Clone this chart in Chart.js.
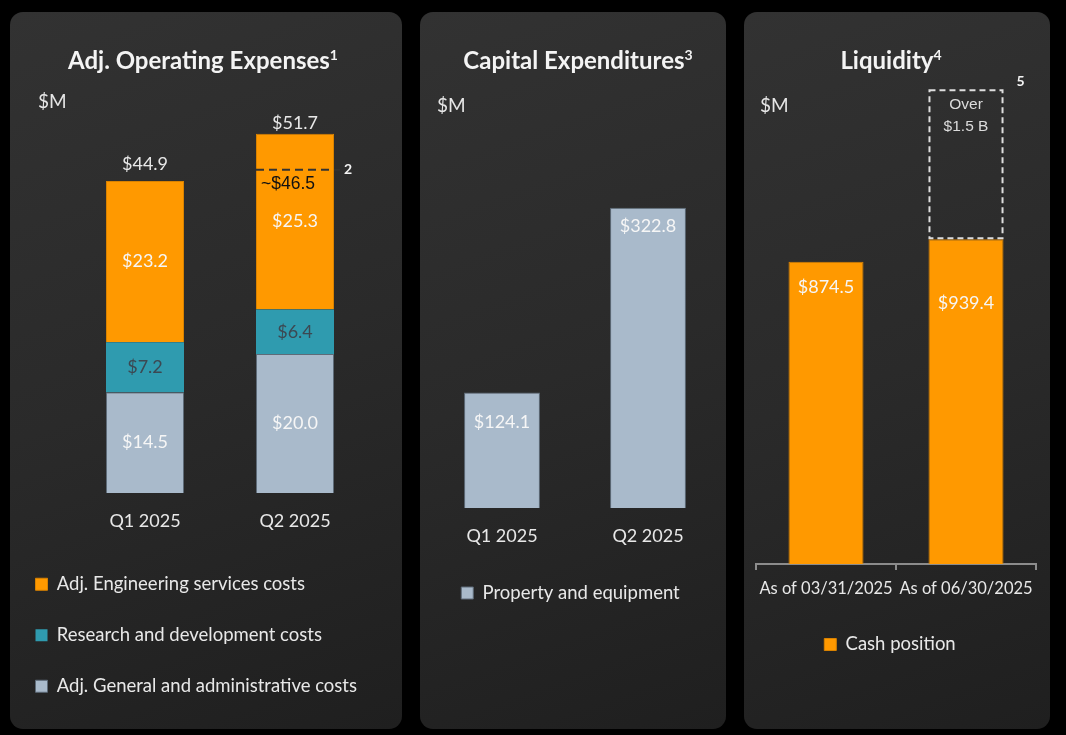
<!DOCTYPE html>
<html>
<head>
<meta charset="utf-8">
<script src="https://cdn.jsdelivr.net/npm/chart.js@4"></script>
<style>
body { margin:0; background:#000; width:1066px; height:735px; position:relative; overflow:hidden; font-family: Lato, sans-serif; }
.panel { position:absolute; top:12px; height:717px; border-radius:13px; background: linear-gradient(160deg, #323232 0%, #2a2a2a 50%, #1f1f1f 100%); }
.title { position:absolute; top:46px; width:400px; line-height:28px; font-weight:bold; font-size:24px; color:#f4f4f4; text-align:center; }
.title sup { font-size:14px; line-height:0; }
.unit { position:absolute; font-size:19px; line-height:22px; color:#e6e6e6; }
canvas { position:absolute; top:12px; }
</style>
</head>
<body>
<div class="panel" style="left:10px;width:392px"></div>
<div class="panel" style="left:420px;width:306px"></div>
<div class="panel" style="left:744px;width:306px"></div>

<canvas id="opex" width="400" height="717" style="left:3px"></canvas>
<canvas id="capex" width="306" height="717" style="left:420px"></canvas>
<canvas id="liq" width="306" height="717" style="left:744px"></canvas>

<div class="title" style="left:3px">Adj. Operating Expenses<sup>1</sup></div>
<div class="title" style="left:378px">Capital Expenditures<sup>3</sup></div>
<div class="title" style="left:691px">Liquidity<sup>4</sup></div>
<div class="unit" style="left:38px;top:90px">$M</div>
<div class="unit" style="left:437px;top:94px">$M</div>
<div class="unit" style="left:760px;top:94px">$M</div>

<script>
// data
const quarters = ['Q1 2025', 'Q2 2025'];
const engCosts = [23.2, 25.3];
const rdCosts = [7.2, 6.4];
const gaCosts = [14.5, 20.0];
const opexTotals = [44.9, 51.7];
const opexGuide = 46.5;       // ~$46.5 marker on Q2
const capexValues = [124.1, 322.8];
const liqDates = ['As of 03/31/2025', 'As of 06/30/2025'];
const cashValues = [874.5, 939.4];
const liqBoxTop = 1370;       // top of the dashed "Over $1.5 B" box

const ORANGE = '#FF9900', TEAL = '#2F9BAF', GREY = '#A9BACB';
const TXT = '#e8e8e8';
const FONT = 'Lato';

Chart.defaults.font.family = FONT;
Chart.defaults.animation = false;

// value labels inside bars
const valueLabels = {
  id: 'valueLabels',
  afterDatasetsDraw(chart) {
    const ctx = chart.ctx;
    ctx.save();
    ctx.textAlign = 'center';
    ctx.textBaseline = 'middle';
    ctx.font = '18px ' + FONT;
    chart.data.datasets.forEach((ds, i) => {
      if (!ds.labelColor) return;
      ctx.fillStyle = ds.labelColor;
      chart.getDatasetMeta(i).data.forEach((bar, j) => {
        let y = ds.labelShift ? bar.y + ds.labelShift[j] : (bar.y + bar.base) / 2;
        ctx.fillText('$' + ds.data[j].toFixed(1), bar.x, y);
      });
    });
    ctx.restore();
  }
};

function xAxis(height, pad, size, extra) {
  return Object.assign({
    grid: { display: false, drawTicks: false },
    border: { display: false },
    ticks: { color: TXT, font: { size: size }, padding: pad, maxRotation: 0, minRotation: 0, autoSkip: false },
    afterFit: s => { s.height = height; }
  }, extra || {});
}
function yAxis(width, max) {
  return {
    min: 0, max: max,
    grid: { display: false },
    border: { display: false },
    ticks: { display: false },
    afterFit: s => { s.width = width; }
  };
}
function legendOpts(align, padding, size) {
  return {
    position: 'bottom',
    align: align,
    labels: { color: TXT, font: { size: size }, boxWidth: 12, boxHeight: 12, padding: padding }
  };
}

// Adj. Operating Expenses
const opexExtras = {
  id: 'opexExtras',
  afterDatasetsDraw(chart) {
    const ctx = chart.ctx;
    const tops = chart.getDatasetMeta(2).data;
    const totalShift = [-17, -10];
    ctx.save();
    ctx.textAlign = 'center';
    ctx.textBaseline = 'middle';
    ctx.font = '18px ' + FONT;
    ctx.fillStyle = TXT;
    opexTotals.forEach((t, j) => ctx.fillText('$' + t.toFixed(1), tops[j].x, tops[j].y + totalShift[j]));

    const bar = tops[1];
    const half = bar.width / 2;
    const gy = chart.scales.y.getPixelForValue(opexGuide);
    ctx.strokeStyle = '#333';
    ctx.lineWidth = 2;
    ctx.setLineDash([8, 5]);
    ctx.beginPath();
    ctx.moveTo(bar.x - half, gy);
    ctx.lineTo(bar.x + half + 6, gy);
    ctx.stroke();
    ctx.setLineDash([]);
    ctx.textAlign = 'left';
    ctx.fillStyle = '#111';
    ctx.font = '17.5px "Liberation Sans"';
    ctx.fillText('~$46.5', bar.x - half + 5, gy + 14);
    ctx.fillStyle = '#f4f4f4';
    ctx.font = 'bold 14px ' + FONT;
    ctx.fillText('2', bar.x + half + 10, gy);
    ctx.restore();
  }
};

new Chart(document.getElementById('opex'), {
  type: 'bar',
  data: {
    labels: quarters,
    datasets: [
      { label: 'Adj. General and administrative costs', data: gaCosts, backgroundColor: GREY, borderColor: '#5E6B78', borderWidth: 1, labelColor: '#f6f6f6' },
      { label: 'Research and development costs', data: rdCosts, backgroundColor: TEAL, borderWidth: 0, labelColor: '#3c4852' },
      { label: 'Adj. Engineering services costs', data: engCosts, backgroundColor: ORANGE, borderColor: '#d98200', borderWidth: 1, labelColor: '#f6f6f6' }
    ]
  },
  options: {
    responsive: false,
    layout: { padding: { top: 64, right: 33, bottom: 23.5, left: 0 } },
    datasets: { bar: { barPercentage: 0.52, categoryPercentage: 1 } },
    scales: {
      x: Object.assign(xAxis(49.5, 17.5, 18), { stacked: true }),
      y: Object.assign(yAxis(67, 60), { stacked: true })
    },
    plugins: {
      legend: Object.assign(legendOpts('start', 32.5, 18.5), { reverse: true }),
      tooltip: { enabled: false }
    }
  },
  plugins: [valueLabels, opexExtras]
});

// Capital Expenditures
new Chart(document.getElementById('capex'), {
  type: 'bar',
  data: {
    labels: quarters,
    datasets: [
      { label: 'Property and equipment', data: capexValues, backgroundColor: GREY, borderColor: '#5E6B78', borderWidth: 1, labelColor: '#f6f6f6', labelShift: [30, 18] }
    ]
  },
  options: {
    responsive: false,
    layout: { padding: { top: 124, right: 5, bottom: 116.75, left: 0 } },
    datasets: { bar: { barPercentage: 0.52, categoryPercentage: 1 } },
    scales: {
      x: xAxis(65.75, 17.5, 18),
      y: yAxis(9, 400)
    },
    plugins: {
      legend: legendOpts('center', 10, 18.5),
      tooltip: { enabled: false }
    }
  },
  plugins: [valueLabels]
});

// Liquidity
const liqExtras = {
  id: 'liqExtras',
  afterDatasetsDraw(chart) {
    const ctx = chart.ctx;
    const bar = chart.getDatasetMeta(0).data[1];
    const half = bar.width / 2;
    const yTop = chart.scales.y.getPixelForValue(liqBoxTop);
    ctx.save();
    ctx.strokeStyle = '#dedede';
    ctx.lineWidth = 2;
    ctx.setLineDash([6, 4]);
    ctx.strokeRect(bar.x - half + 1, yTop, bar.width - 2, bar.y - yTop - 1);
    ctx.setLineDash([]);
    ctx.textAlign = 'center';
    ctx.textBaseline = 'middle';
    ctx.fillStyle = '#dcdcdc';
    ctx.font = '15.5px "Liberation Sans"';
    ctx.fillText('Over', bar.x, yTop + 14);
    ctx.fillText('$1.5 B', bar.x, yTop + 36);
    ctx.fillStyle = '#f4f4f4';
    ctx.font = 'bold 14px ' + FONT;
    ctx.fillText('5', bar.x + half + 17, yTop - 9);
    ctx.restore();
  }
};

new Chart(document.getElementById('liq'), {
  type: 'bar',
  data: {
    labels: liqDates,
    datasets: [
      { label: 'Cash position', data: cashValues, backgroundColor: ORANGE, borderColor: '#d98200', borderWidth: 1, labelColor: '#f6f6f6', labelShift: [26, 64] }
    ]
  },
  options: {
    responsive: false,
    layout: { padding: { top: 68, right: 14, bottom: 65.25, left: 0 } },
    datasets: { bar: { barPercentage: 0.536, categoryPercentage: 1 } },
    scales: {
      x: xAxis(61.25, 9, 16.5, {
        grid: { display: true, drawOnChartArea: false, drawTicks: true, tickLength: 6, offset: true, color: '#8c8c8c', lineWidth: 2 },
        border: { display: true, color: '#8c8c8c', width: 2 }
      }),
      y: yAxis(12, 1400)
    },
    plugins: {
      legend: legendOpts('center', 10, 18.5),
      tooltip: { enabled: false }
    }
  },
  plugins: [valueLabels, liqExtras]
});
</script>
</body>
</html>
